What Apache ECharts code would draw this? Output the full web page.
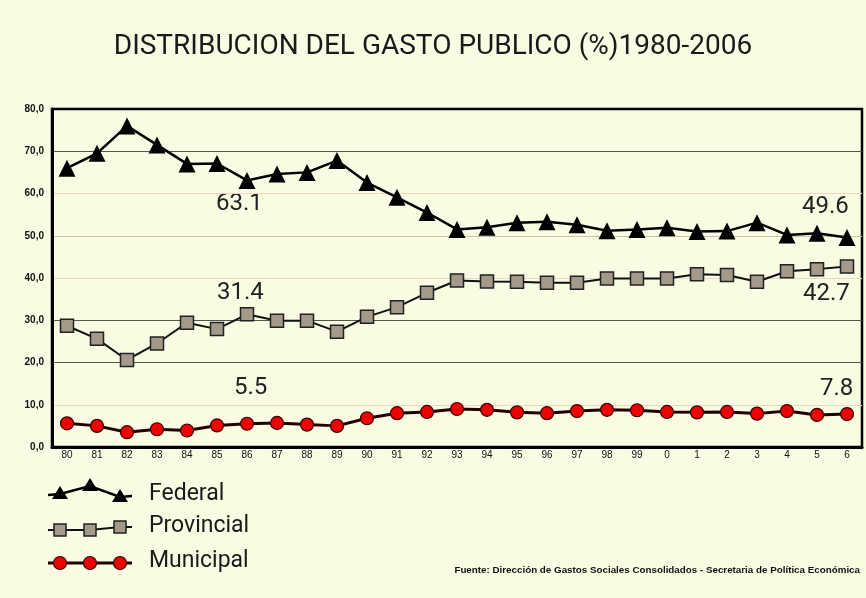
<!DOCTYPE html>
<html>
<head>
<meta charset="utf-8">
<script src="https://cdn.jsdelivr.net/npm/echarts@6/dist/echarts.min.js"></script>
<style>
  html, body { margin: 0; padding: 0; background: #f9fbe3; }
  #chart { width: 866px; height: 598px; }
</style>
</head>
<body>
<div id="chart"></div>
<script>
var anios = ['80', '81', '82', '83', '84', '85', '86', '87', '88', '89', '90', '91', '92', '93',
    '94', '95', '96', '97', '98', '99', '0', '1', '2', '3', '4', '5', '6'];
var federal = [66.0, 69.5, 76.0, 71.5, 67.0, 67.1, 63.1, 64.6, 65.0, 67.8, 62.6, 59.1, 55.5, 51.5,
    52.0, 53.1, 53.3, 52.6, 51.2, 51.5, 51.9, 51.0, 51.1, 53.1, 50.2, 50.6, 49.6];
var provincial = [28.7, 25.6, 20.6, 24.5, 29.4, 27.9, 31.4, 29.9, 29.9, 27.3, 30.8, 33.1, 36.5, 39.4,
    39.2, 39.1, 38.9, 38.9, 39.9, 39.9, 39.9, 40.9, 40.7, 39.1, 41.6, 42.1, 42.7];
var municipal = [5.6, 5.0, 3.5, 4.2, 3.9, 5.1, 5.5, 5.7, 5.3, 5.0, 6.8, 8.0, 8.3, 9.0,
    8.8, 8.2, 8.0, 8.5, 8.8, 8.7, 8.3, 8.2, 8.3, 7.9, 8.5, 7.6, 7.8];

var dom = document.getElementById('chart');
var myChart = echarts.init(dom, null, { renderer: 'canvas' });

var notaFont = '24px Roboto';
var leyendaFont = '23px Roboto';

var option = {
    backgroundColor: '#f9fbe3',
    animation: false,
    title: {
        text: 'DISTRIBUCION DEL GASTO PUBLICO (%)1980-2006',
        left: 'center',
        top: 28,
        textStyle: { fontFamily: 'Roboto', fontSize: 28, fontWeight: 'normal', color: '#1a1a1a' }
    },
    grid: {
        left: 52, right: 4, top: 109, bottom: 151,
        show: true, borderColor: '#000', borderWidth: 2.5
    },
    xAxis: {
        type: 'category',
        data: anios,
        boundaryGap: true,
        axisLine: { lineStyle: { color: '#000', width: 3 } },
        axisTick: { interval: 0, length: 9, lineStyle: { color: '#333', width: 1 } },
        axisLabel: { interval: 0, margin: 3, fontFamily: 'Liberation Sans', fontSize: 10, color: '#111' }
    },
    yAxis: {
        type: 'value',
        min: 0, max: 80, interval: 10,
        axisLine: { show: true, lineStyle: { color: '#000', width: 3 } },
        axisTick: { show: false },
        axisLabel: {
            margin: 8,
            fontFamily: 'Liberation Sans', fontSize: 10, fontWeight: 'bold', color: '#111',
            formatter: function (v) { return v.toFixed(1).replace('.', ','); }
        },
        splitLine: {
            lineStyle: {
                width: 1,
                color: ['#000', '#e8d8c8', '#55554a', '#55554a', '#e8d8c8', '#c8c4a8', '#e8d8c8', '#55554a', '#000']
            }
        }
    },
    series: [{
        name: 'Federal',
        type: 'line',
        data: federal,
        symbol: 'triangle',
        symbolSize: 17,
        lineStyle: { color: '#000', width: 2.5 },
        itemStyle: { color: '#000' }
    }, {
        name: 'Provincial',
        type: 'line',
        data: provincial,
        symbol: 'rect',
        symbolSize: 13,
        lineStyle: { color: '#111', width: 2 },
        itemStyle: { color: '#a39a8a', borderColor: '#222', borderWidth: 1.5 }
    }, {
        name: 'Municipal',
        type: 'line',
        data: municipal,
        symbol: 'circle',
        symbolSize: 13,
        lineStyle: { color: '#200', width: 3 },
        itemStyle: { color: '#ee0000', borderColor: '#3a0000', borderWidth: 1.2 }
    }],
    graphic: [
        { type: 'text', left: 216, top: 192, style: { text: '63.1', font: notaFont, fill: '#222' } },
        { type: 'text', left: 217, top: 281, style: { text: '31.4', font: notaFont, fill: '#222' } },
        { type: 'text', left: 234, top: 376, style: { text: '5.5', font: notaFont, fill: '#222' } },
        { type: 'text', left: 802, top: 195, style: { text: '49.6', font: notaFont, fill: '#222' } },
        { type: 'text', left: 803, top: 282, style: { text: '42.7', font: notaFont, fill: '#222' } },
        { type: 'text', left: 820, top: 377, style: { text: '7.8', font: notaFont, fill: '#222' } },
        // leyenda
        { type: 'polyline', shape: { points: [[48, 495], [60, 494], [90, 486], [120, 497], [132, 496]] },
          style: { stroke: '#000', lineWidth: 2.5, fill: null } },
        { type: 'polygon', shape: { points: [[60, 486], [52, 499], [68, 499]] }, style: { fill: '#000' } },
        { type: 'polygon', shape: { points: [[90, 478], [82, 491], [98, 491]] }, style: { fill: '#000' } },
        { type: 'polygon', shape: { points: [[120, 489], [112, 502], [128, 502]] }, style: { fill: '#000' } },
        { type: 'text', left: 149, top: 483, style: { text: 'Federal', font: leyendaFont, fill: '#1a1a1a' } },
        { type: 'polyline', shape: { points: [[48, 530], [60, 530], [90, 530], [120, 527], [132, 527]] },
          style: { stroke: '#111', lineWidth: 2, fill: null } },
        { type: 'rect', shape: { x: 54, y: 524, width: 12, height: 12 }, style: { fill: '#a39a8a', stroke: '#222', lineWidth: 1.5 } },
        { type: 'rect', shape: { x: 84, y: 524, width: 12, height: 12 }, style: { fill: '#a39a8a', stroke: '#222', lineWidth: 1.5 } },
        { type: 'rect', shape: { x: 114, y: 521, width: 12, height: 12 }, style: { fill: '#a39a8a', stroke: '#222', lineWidth: 1.5 } },
        { type: 'text', left: 149, top: 515, style: { text: 'Provincial', font: leyendaFont, fill: '#1a1a1a' } },
        { type: 'polyline', shape: { points: [[48, 563], [132, 563]] }, style: { stroke: '#200', lineWidth: 3, fill: null } },
        { type: 'circle', shape: { cx: 60, cy: 563, r: 6.5 }, style: { fill: '#ee0000', stroke: '#3a0000', lineWidth: 1.2 } },
        { type: 'circle', shape: { cx: 90, cy: 563, r: 6.5 }, style: { fill: '#ee0000', stroke: '#3a0000', lineWidth: 1.2 } },
        { type: 'circle', shape: { cx: 120, cy: 563, r: 6.5 }, style: { fill: '#ee0000', stroke: '#3a0000', lineWidth: 1.2 } },
        { type: 'text', left: 149, top: 550, style: { text: 'Municipal', font: leyendaFont, fill: '#1a1a1a' } },
        { type: 'text', right: 6, top: 565,
          style: { text: 'Fuente: Dirección de Gastos Sociales Consolidados - Secretaria de Política Económica',
                   font: 'bold 9.8px "Liberation Sans"', fill: '#111' } }
    ]
};

myChart.setOption(option);
window.addEventListener('resize', myChart.resize);
</script>
</body>
</html>
